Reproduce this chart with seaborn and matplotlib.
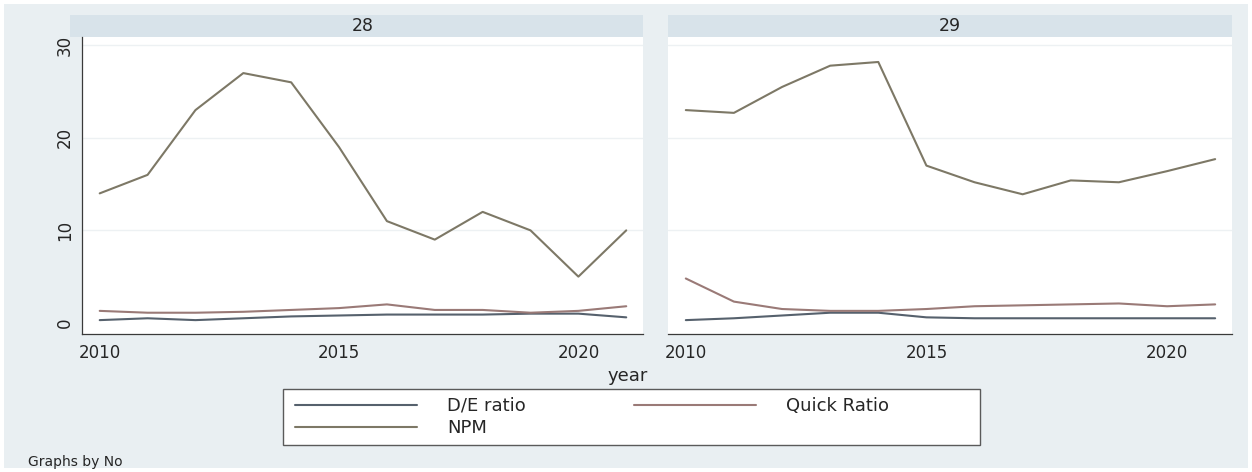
import matplotlib
matplotlib.use("Agg")
import matplotlib.pyplot as plt
import matplotlib.patches as mpatches
from matplotlib.lines import Line2D
import numpy as np
import pandas as pd
import seaborn as sns

years = list(range(2010, 2022))
panels = ["28", "29"]
series_names = ["D/E ratio", "Quick Ratio", "NPM"]

de_28 = [0.3, 0.5, 0.3, 0.5, 0.7, 0.8, 0.9, 0.9, 0.9, 1.0, 1.0, 0.6]
quick_28 = [1.3, 1.1, 1.1, 1.2, 1.4, 1.6, 2.0, 1.4, 1.4, 1.1, 1.3, 1.8]
npm_28 = [14, 16, 23, 27, 26, 19, 11, 9, 12, 10, 5, 10]

de_29 = [0.3, 0.5, 0.8, 1.1, 1.1, 0.6, 0.5, 0.5, 0.5, 0.5, 0.5, 0.5]
quick_29 = [4.8, 2.3, 1.5, 1.3, 1.3, 1.5, 1.8, 1.9, 2.0, 2.1, 1.8, 2.0]
npm_29 = [23.0, 22.7, 25.5, 27.8, 28.2, 17.0, 15.2, 13.9, 15.4, 15.2, 16.4, 17.7]

y_ticks = [0, 10, 20, 30]
x_ticks = [2010, 2015, 2020]

data = {
    "28": {"D/E ratio": de_28, "Quick Ratio": quick_28, "NPM": npm_28},
    "29": {"D/E ratio": de_29, "Quick Ratio": quick_29, "NPM": npm_29},
}
rows = []
for p in panels:
    for s in series_names:
        for yr, v in zip(years, data[p][s]):
            rows.append({"No": p, "year": yr, "series": s, "value": v})
df = pd.DataFrame(rows)

palette = {"D/E ratio": "#56616d", "Quick Ratio": "#9a7a77", "NPM": "#7d7866"}

sns.set_style("white")
plt.rcParams["font.family"] = ["DejaVu Sans"]

W, H = 1252, 472
fig = plt.figure(figsize=(W / 100, H / 100), dpi=100)
fig.patch.set_facecolor("white")
bg = "#e9eff2"
fig.patches.append(mpatches.Rectangle((4 / W, 4 / H), 1 - 8 / W, 1 - 8 / H,
                                      transform=fig.transFigure, facecolor=bg,
                                      edgecolor="none", zorder=-10))

def fx(px):
    return px / W

def fy(py):
    return 1 - py / H

axes_px = [(82, 643), (668, 1232)]
strip_px = [(70, 643), (668, 1232)]
top_px, bot_px = 37, 334
xlim = (2009.63, 2021.35)
ylim = (-1.2, 30.9)
txt = "#262626"

for i, p in enumerate(panels):
    x0, x1 = axes_px[i]
    ax = fig.add_axes([fx(x0), fy(bot_px), fx(x1 - x0), (bot_px - top_px) / H])
    ax.set_facecolor("white")
    sub = df[df["No"] == p]
    sns.lineplot(data=sub, x="year", y="value", hue="series", hue_order=series_names,
                 palette=palette, ax=ax, linewidth=1.5, legend=False)
    ax.set_xlim(*xlim)
    ax.set_ylim(*ylim)
    ax.set_xlabel("")
    ax.set_ylabel("")
    ax.set_xticks(x_ticks)
    ax.set_yticks(y_ticks)
    for yv in y_ticks[1:]:
        ax.axhline(yv, color="#edf1f3", lw=1.0, zorder=0)
    for sp in ["top", "right"]:
        ax.spines[sp].set_visible(False)
    ax.spines["bottom"].set_color("#3a3a3a")
    ax.spines["bottom"].set_linewidth(0.9)
    ax.tick_params(axis="x", direction="out", length=5, width=0.8, color="#3a3a3a",
                   labelsize=12, pad=2, labelcolor=txt)
    if i == 0:
        ax.spines["left"].set_color("#3a3a3a")
        ax.spines["left"].set_linewidth(0.9)
        ax.tick_params(axis="y", direction="out", length=5, width=0.8, color="#3a3a3a",
                       labelsize=12, pad=1, labelcolor=txt)
        for lab in ax.get_yticklabels():
            lab.set_rotation(90)
            lab.set_va("center")
    else:
        ax.spines["left"].set_visible(False)
        ax.tick_params(axis="y", left=False, labelleft=False)

    sx0, sx1 = strip_px[i]
    fig.patches.append(mpatches.Rectangle((fx(sx0), fy(37)), fx(sx1 - sx0), 22 / H,
                                          transform=fig.transFigure, facecolor="#d8e3ea",
                                          edgecolor="none", zorder=-5))
    fig.text(fx((sx0 + sx1) / 2 + 6 * (i == 0)), fy(26), p, ha="center", va="center",
             fontsize=12.5, color=txt)

fig.text(fx(628), fy(376), "year", ha="center", va="center", fontsize=13, color=txt)

# legend frame
fig.patches.append(mpatches.Rectangle((fx(283), fy(445)), fx(980 - 283), 56 / H,
                                      transform=fig.transFigure, facecolor="white",
                                      edgecolor="#5a5a5a", linewidth=1.0, zorder=1))
handles = {s: Line2D([], [], color=palette[s], lw=1.5) for s in series_names}
order = ["D/E ratio", "NPM", "Quick Ratio"]
fs = 13
pxpt = fs * 100 / 72
leg = fig.legend([handles[s] for s in order], order, loc="upper left",
                 bbox_to_anchor=(fx(295), fy(397)), ncol=2, frameon=False, fontsize=fs,
                 handlelength=122 / pxpt, handletextpad=30 / pxpt,
                 columnspacing=108 / pxpt, labelspacing=0.22,
                 borderpad=0, borderaxespad=0)
leg.set_zorder(2)
for t in leg.get_texts():
    t.set_color(txt)

fig.text(fx(28), fy(462), "Graphs by No", ha="left", va="center", fontsize=10, color=txt)

fig.savefig("out.png", dpi=100, facecolor=fig.get_facecolor())
